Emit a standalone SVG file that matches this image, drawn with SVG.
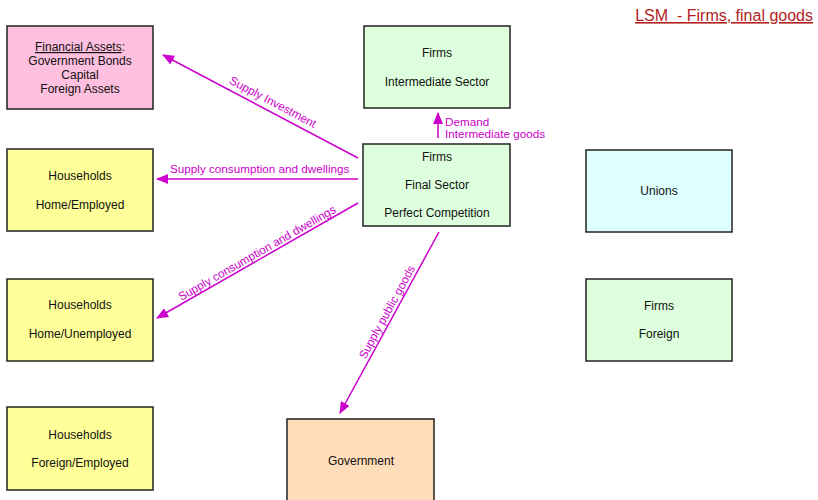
<svg xmlns="http://www.w3.org/2000/svg" width="818" height="500" viewBox="0 0 818 500">
<defs>
<marker id="ah" viewBox="0 0 12 10" refX="11" refY="5" markerWidth="12" markerHeight="10" markerUnits="userSpaceOnUse" orient="auto">
<path d="M0,0 L12,5 L0,10 Z" fill="#CC00CC"/>
</marker>
<style>
.box{stroke:#222;stroke-width:1.5}
.t{font-family:"Liberation Sans",Arial,sans-serif;font-size:12px;fill:#111;text-anchor:middle}
.c{stroke:#CC00CC;stroke-width:1.5;fill:none;marker-end:url(#ah)}
.l{font-family:"Liberation Sans",Arial,sans-serif;font-size:11.7px;fill:#CC00CC}
</style>
</defs>
<rect width="818" height="500" fill="#fff"/>
<text x="813" y="21" font-family="Liberation Sans, Arial, sans-serif" font-size="16" fill="#B22222" text-anchor="end" text-decoration="underline" xml:space="preserve">LSM  - Firms, final goods</text>

<g id="financial">
<rect class="box" x="7" y="26" width="146" height="83" fill="#FFBFDF"/>
<text class="t" x="80" y="51"><tspan text-decoration="underline">Financial Assets</tspan>:</text>
<text class="t" x="80" y="65">Government Bonds</text>
<text class="t" x="80" y="79">Capital</text>
<text class="t" x="80" y="93">Foreign Assets</text>
</g>
<g id="firms-intermediate">
<rect class="box" x="364" y="26" width="146" height="82" fill="#DDFFDD"/>
<text class="t" x="437" y="57">Firms</text>
<text class="t" x="437" y="86">Intermediate Sector</text>
</g>
<g id="firms-final">
<rect class="box" x="363" y="144" width="147" height="82" fill="#DDFFDD"/>
<text class="t" x="437" y="161">Firms</text>
<text class="t" x="437" y="189">Final Sector</text>
<text class="t" x="437" y="217">Perfect Competition</text>
</g>
<g id="hh-home-employed">
<rect class="box" x="7" y="149" width="146" height="82" fill="#FFFF99"/>
<text class="t" x="80" y="180">Households</text>
<text class="t" x="80" y="209">Home/Employed</text>
</g>
<g id="hh-home-unemployed">
<rect class="box" x="7" y="279" width="146" height="82" fill="#FFFF99"/>
<text class="t" x="80" y="309">Households</text>
<text class="t" x="80" y="338">Home/Unemployed</text>
</g>
<g id="hh-foreign-employed">
<rect class="box" x="7" y="407" width="146" height="83" fill="#FFFF99"/>
<text class="t" x="80" y="439">Households</text>
<text class="t" x="80" y="467">Foreign/Employed</text>
</g>
<g id="unions">
<rect class="box" x="586" y="150" width="146" height="82" fill="#DDFFFF"/>
<text class="t" x="659" y="195">Unions</text>
</g>
<g id="firms-foreign">
<rect class="box" x="586" y="279" width="146" height="82" fill="#DDFFDD"/>
<text class="t" x="659" y="310">Firms</text>
<text class="t" x="659" y="338">Foreign</text>
</g>
<g id="government">
<rect class="box" x="287" y="419" width="147" height="90" fill="#FFDDBB"/>
<text class="t" x="361" y="465">Government</text>
</g>

<g id="connectors">
<line class="c" x1="358" y1="158" x2="163" y2="55"/>
<text class="l" text-anchor="middle" transform="translate(273,102) rotate(27.8)" x="0" y="4">Supply Investment</text>
<line class="c" x1="358" y1="179" x2="157" y2="179"/>
<text class="l" x="170" y="173">Supply consumption and dwellings</text>
<line class="c" x1="358" y1="203" x2="157" y2="318"/>
<text class="l" text-anchor="middle" transform="translate(257,253) rotate(-29.8)" x="0" y="4">Supply consumption and dwellings</text>
<line class="c" x1="439" y1="232" x2="340" y2="413"/>
<text class="l" text-anchor="middle" transform="translate(387,312) rotate(-61.3)" x="0" y="4">Supply public goods</text>
<line class="c" x1="438" y1="138" x2="438" y2="113"/>
<text class="l" x="445" y="126">Demand</text>
<text class="l" x="445" y="138">Intermediate goods</text>
</g>
</svg>
